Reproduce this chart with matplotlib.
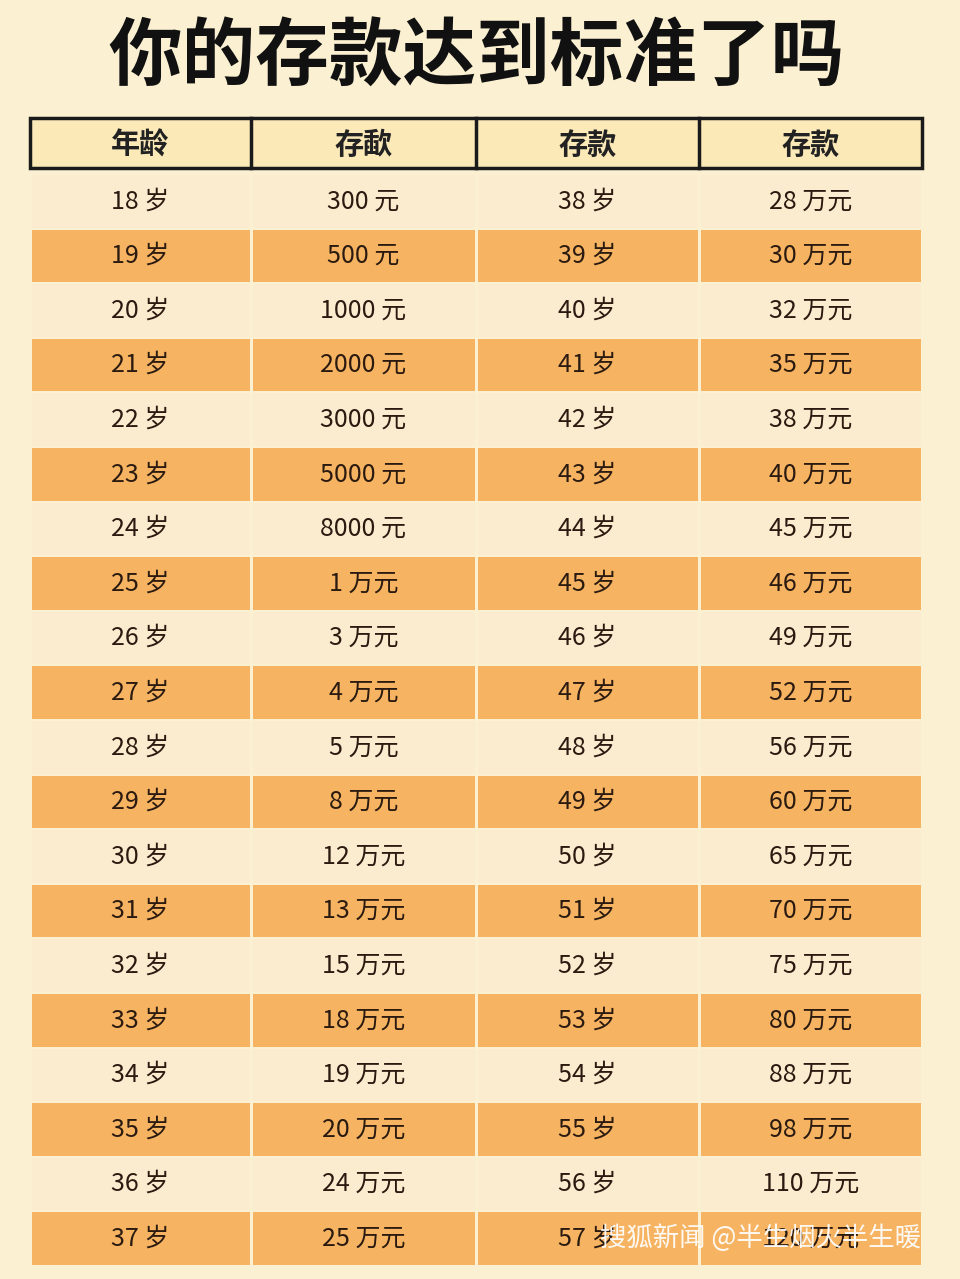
import matplotlib
matplotlib.use("Agg")
import matplotlib.pyplot as plt
from matplotlib.patches import Rectangle

plt.rcParams['font.family'] = ['Noto Sans CJK SC', 'DejaVu Sans']

title = "你的存款达到标准了吗"
headers = ["年龄", "存歃", "存款", "存款"]
ages_left = [f"{a} 岁" for a in range(18, 38)]
savings_left = ["300 元", "500 元", "1000 元", "2000 元", "3000 元", "5000 元", "8000 元",
                "1 万元", "3 万元", "4 万元", "5 万元", "8 万元", "12 万元", "13 万元",
                "15 万元", "18 万元", "19 万元", "20 万元", "24 万元", "25 万元"]
ages_right = [f"{a} 岁" for a in range(38, 58)]
savings_right = ["28 万元", "30 万元", "32 万元", "35 万元", "38 万元", "40 万元", "45 万元",
                 "46 万元", "49 万元", "52 万元", "56 万元", "60 万元", "65 万元", "70 万元",
                 "75 万元", "80 万元", "88 万元", "98 万元", "110 万元", "120 万元"]
watermark = "搜狐新闻 @半生烟火半生暖"

fig = plt.figure(figsize=(9.6, 12.79), dpi=100)
fig.patch.set_facecolor("#FBF0D2")
ax = fig.add_axes([0, 0, 1, 1])
ax.set_xlim(0, 960); ax.set_ylim(1279, 0); ax.axis("off")

cols = [30, 251, 476, 699, 922]
centers = [(cols[i] + cols[i+1]) / 2 for i in range(4)]

ax.text(476, 58, title, ha="center", va="center", fontsize=53, fontweight="bold", color="#111111")

# header
ax.add_patch(Rectangle((cols[0], 118), cols[-1]-cols[0], 50, facecolor="#FBE9B8", edgecolor="#1a1a1a", lw=2.5))
for c in cols[1:-1]:
    ax.plot([c, c], [118, 168], color="#1a1a1a", lw=2.5)
for c, h in zip(centers, headers):
    ax.text(c, 145, h, ha="center", va="center", fontsize=21, fontweight="bold", color="#222222")

top = 174; pitch = 54.6
for i in range(len(ages_left)):
    y0 = top + i * pitch
    fc = "#F6B361" if i % 2 == 1 else "#FBEBCF"
    for j in range(4):
        ax.add_patch(Rectangle((cols[j] + 1.5, y0 + 1), cols[j+1] - cols[j] - 3, pitch - 2,
                               facecolor=fc, edgecolor="none"))
    yc = y0 + pitch / 2
    for c, t in zip(centers, [ages_left[i], savings_left[i], ages_right[i], savings_right[i]]):
        ax.text(c, yc, t, ha="center", va="center", fontsize=18, fontweight="medium", color="#2a1a10")

ax.text(760, 1238, watermark, ha="center", va="center", fontsize=19, color="white", alpha=0.92)

fig.savefig("out.png", dpi=100, facecolor=fig.get_facecolor())
